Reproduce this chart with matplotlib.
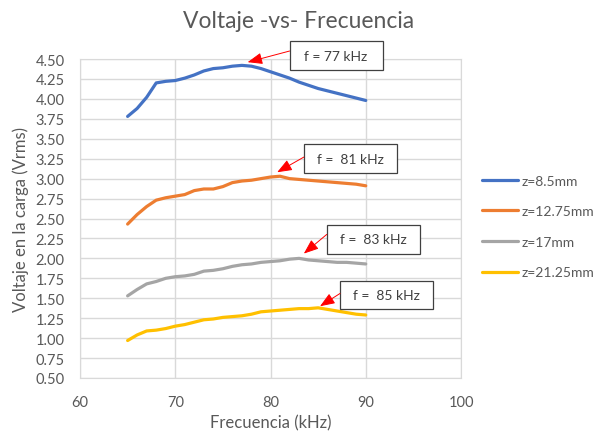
import matplotlib
matplotlib.use("Agg")
import matplotlib.pyplot as plt
from matplotlib.patches import Rectangle

plt.rcParams['font.family'] = ['Lato', 'DejaVu Sans']

freq = list(range(65, 91))
z85 = [3.78, 3.88, 4.02, 4.20, 4.22, 4.23, 4.26, 4.30, 4.35, 4.38, 4.39, 4.41, 4.42,
       4.41, 4.38, 4.34, 4.30, 4.26, 4.21, 4.17, 4.13, 4.10, 4.07, 4.04, 4.01, 3.98]
z1275 = [2.43, 2.55, 2.65, 2.73, 2.76, 2.78, 2.80, 2.85, 2.87, 2.87, 2.90, 2.95, 2.97,
         2.98, 3.00, 3.02, 3.03, 3.00, 2.99, 2.98, 2.97, 2.96, 2.95, 2.94, 2.93, 2.91]
z17 = [1.53, 1.61, 1.68, 1.71, 1.75, 1.77, 1.78, 1.80, 1.84, 1.85, 1.87, 1.90, 1.92,
       1.93, 1.95, 1.96, 1.97, 1.99, 2.00, 1.98, 1.97, 1.96, 1.95, 1.95, 1.94, 1.93]
z2125 = [0.97, 1.04, 1.09, 1.10, 1.12, 1.15, 1.17, 1.20, 1.23, 1.24, 1.26, 1.27, 1.28,
         1.30, 1.33, 1.34, 1.35, 1.36, 1.37, 1.37, 1.38, 1.36, 1.34, 1.32, 1.30, 1.29]
labels = ['z=8.5mm', 'z=12.75mm', 'z=17mm', 'z=21.25mm']
colors = ['#4472C4', '#ED7D31', '#A5A5A5', '#FFC000']
yticks = [0.50 + 0.25 * i for i in range(17)]
xticks = [60, 70, 80, 90, 100]

ann_texts = ['f = 77 kHz', 'f =  81 kHz', 'f =  83 kHz', 'f =  85 kHz']
ann_tips = [(77.6, 4.46), (80.7, 3.08), (83.5, 2.06), (85.2, 1.40)]
ann_box_ll = [(82.0, 4.36), (83.5, 3.07), (85.9, 2.06), (87.3, 1.36)]
ann_starts = [(82.0, 4.60), (83.5, 3.27), (85.9, 2.30), (87.3, 1.56)]
box_w, box_h = 9.76, 0.36

fig = plt.figure(figsize=(5.98, 4.35), dpi=100)
ax = fig.add_axes([80/598, 1-379/435, (461-80)/598, (379-60)/435])
gray = '#595959'
for data, lab, col in zip([z85, z1275, z17, z2125], labels, colors):
    ax.plot(freq, data, color=col, lw=2.3, label=lab, solid_joinstyle='round', solid_capstyle='round')

ax.set_xlim(60, 100)
ax.set_ylim(0.5, 4.5)
ax.set_xticks(xticks)
ax.set_yticks(yticks)
ax.set_yticklabels([f'{v:.2f}' for v in yticks])
ax.grid(True, color='#D9D9D9', lw=1)
ax.set_axisbelow(True)
for s in ax.spines.values():
    s.set_color('#D9D9D9')
ax.tick_params(length=0, colors=gray, labelsize=10.5)
ax.tick_params(axis='x', pad=12)
ax.tick_params(axis='y', pad=11)
ax.set_xlabel('Frecuencia (kHz)', color=gray, fontsize=12, labelpad=4)
ax.set_ylabel('Voltaje en la carga (Vrms)', color=gray, fontsize=12, labelpad=5)
fig.text(0.5, 1-21/435, 'Voltaje -vs- Frecuencia', ha='center', va='center', color=gray, fontsize=16.5)

for txt, tip, ll, st in zip(ann_texts, ann_tips, ann_box_ll, ann_starts):
    r = Rectangle(ll, box_w, box_h, facecolor='white', edgecolor='#404040', lw=0.9, clip_on=False, zorder=5)
    ax.add_patch(r)
    ax.text(ll[0] + box_w/2, ll[1] + box_h/2, txt, ha='center', va='center', fontsize=10,
            color='#404040', zorder=6, clip_on=False)
    ax.annotate('', xy=tip, xytext=st, zorder=6, annotation_clip=False,
                arrowprops=dict(arrowstyle='-|>,head_length=0.9,head_width=0.35', color='#FF0000',
                                lw=0.7, shrinkA=0, shrinkB=0))

leg = ax.legend(loc='upper left', bbox_to_anchor=(476/598, 1-170/435), bbox_transform=fig.transFigure,
                frameon=False, fontsize=10, handlelength=2.6, labelspacing=1.34, handletextpad=0.25,
                borderaxespad=0)
for t in leg.get_texts():
    t.set_color(gray)

fig.savefig('out.png', dpi=100)
